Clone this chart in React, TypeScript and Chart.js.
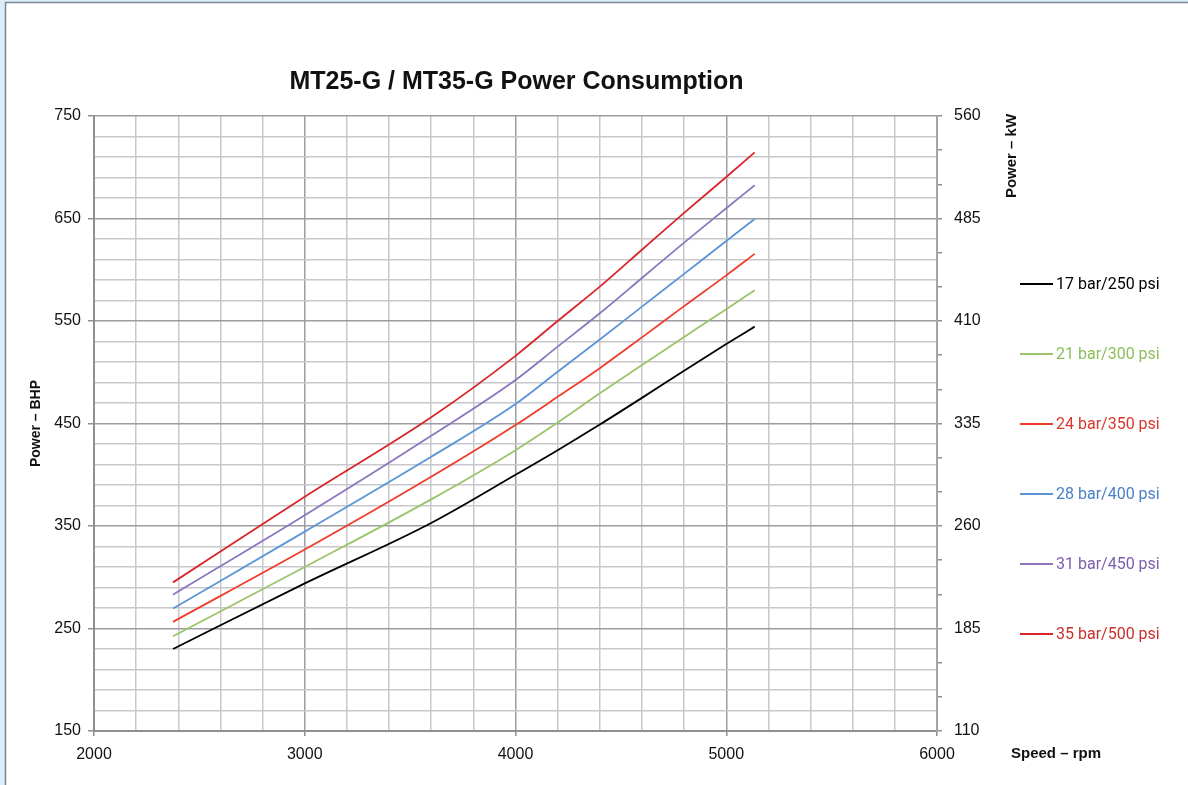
import React, { useEffect, useRef } from "react";
import { Chart, registerables } from "chart.js";

Chart.register(...registerables);

// ---- data ----
const RPM = [2375, 3000, 3600, 4000, 4200, 4400, 4600, 4800, 5000, 5135];
const BHP_17_BAR = [230, 294, 353, 400, 424, 449, 475, 501.5, 527.5, 544.5];
const BHP_21_BAR = [242.5, 310, 376, 424, 451, 479.5, 507, 534.5, 561.5, 580];
const BHP_24_BAR = [256.5, 327, 398, 448.5, 476, 504, 534, 564.5, 594.5, 615.5];
const BHP_28_BAR = [269.5, 344.5, 417.5, 469, 500.5, 532, 564, 596, 628, 649.5];
const BHP_31_BAR = [283, 360.5, 438, 492.5, 525, 557.5, 592, 626.5, 660, 682.5];
const BHP_35_BAR = [295, 378.5, 456, 516, 550, 583.5, 619.5, 655.5, 690.5, 714.5];

const SERIES_LABELS = [
  "17 bar/250 psi",
  "21 bar/300 psi",
  "24 bar/350 psi",
  "28 bar/400 psi",
  "31 bar/450 psi",
  "35 bar/500 psi",
];
const SERIES_VALUES = [BHP_17_BAR, BHP_21_BAR, BHP_24_BAR, BHP_28_BAR, BHP_31_BAR, BHP_35_BAR];
const LINE_COLORS = ["#000000", "#9bc46a", "#f03d2b", "#5b95d6", "#8c77be", "#d8262b"];
const TEXT_COLORS = ["#000000", "#8dbd5a", "#d9372c", "#4a80c6", "#7a5fae", "#c9302c"];

const TITLE = "MT25-G / MT35-G Power Consumption";
const LEFT_TITLE = "Power \u2013 BHP";
const RIGHT_TITLE = "Power \u2013 kW";
const X_TITLE = "Speed \u2013 rpm";

const X_MIN = 2000, X_MAX = 6000, X_STEP = 200, X_LABEL_STEP = 1000;
const BHP_MIN = 150, BHP_MAX = 750, BHP_STEP = 20, BHP_LABEL_STEP = 100;
const KW_MIN = 110, KW_MAX = 560, KW_STEP = 25, KW_LABEL_STEP = 75;

const FONT = "'Liberation Sans', Arial, sans-serif";
const MINOR = "#c8c8cc";
const MAJOR = "#9d9da1";
const AXIS = "#8e8e93";

const isMajorBhp = (v: number) => Math.abs(((v - BHP_MIN) % BHP_LABEL_STEP)) < 1e-6;
const isMajorX = (v: number) => Math.abs(((v - X_MIN) % X_LABEL_STEP)) < 1e-6;
const isMajorKw = (v: number) => Math.abs(((v - KW_MIN) % KW_LABEL_STEP)) < 1e-6;

const decorPlugin = {
  id: "decor",
  beforeDraw(chart: any) {
    const ctx = chart.ctx;
    ctx.save();
    ctx.fillStyle = "#dcecf8";
    ctx.fillRect(0, 0, chart.width, chart.height);
    ctx.fillStyle = "#ffffff";
    ctx.fillRect(6, 3, chart.width, chart.height);
    ctx.strokeStyle = "#7d858e";
    ctx.lineWidth = 1.5;
    ctx.beginPath();
    ctx.moveTo(5.5, chart.height);
    ctx.lineTo(5.5, 2.5);
    ctx.lineTo(chart.width, 2.5);
    ctx.stroke();
    ctx.restore();
  },
  afterDraw(chart: any) {
    const ctx = chart.ctx;
    const area = chart.chartArea;
    ctx.save();
    // title
    ctx.fillStyle = "#111";
    ctx.font = `bold 25px ${FONT}`;
    ctx.textAlign = "center";
    ctx.textBaseline = "middle";
    ctx.fillText(TITLE, (area.left + area.right) / 2 + 1, 82);

    // left axis title
    ctx.font = `bold 14px ${FONT}`;
    ctx.save();
    ctx.translate(36, (area.top + area.bottom) / 2);
    ctx.rotate(-Math.PI / 2);
    ctx.fillText(LEFT_TITLE, 0, 0);
    ctx.restore();

    // right axis title
    ctx.font = `bold 15px ${FONT}`;
    ctx.save();
    ctx.translate(1012, 156);
    ctx.rotate(-Math.PI / 2);
    ctx.fillText(RIGHT_TITLE, 0, 0);
    ctx.restore();

    // x axis title
    ctx.textAlign = "left";
    ctx.fillText(X_TITLE, 1011, 754);

    // legend
    chart.data.datasets.forEach((ds: any, i: number) => {
      const y = 284 + 70 * i;
      ctx.strokeStyle = ds.borderColor;
      ctx.lineWidth = 2;
      ctx.beginPath();
      ctx.moveTo(1020, y);
      ctx.lineTo(1053, y);
      ctx.stroke();
      ctx.fillStyle = TEXT_COLORS[i];
      ctx.font = `16px Roboto, sans-serif`;
      ctx.textAlign = "left";
      ctx.textBaseline = "middle";
      ctx.fillText(ds.label, 1056, y + 1);
    });
    ctx.restore();
  },
};

export default function App() {
  const ref = useRef<HTMLCanvasElement | null>(null);

  useEffect(() => {
    document.body.style.margin = "0";
    document.body.style.overflow = "hidden";
    const canvas = ref.current;
    if (!canvas) return;
    const datasets = SERIES_VALUES.map((vals, i) => ({
      label: SERIES_LABELS[i],
      data: RPM.map((x, j) => ({ x, y: vals[j] })),
      borderColor: LINE_COLORS[i],
      backgroundColor: LINE_COLORS[i],
      borderWidth: 1.8,
      pointRadius: 0,
      cubicInterpolationMode: "monotone",
      yAxisID: "y",
    }));

    const chart = new Chart(canvas, {
      type: "line",
      data: { datasets },
      plugins: [decorPlugin],
      options: {
        responsive: false,
        animation: false,
        devicePixelRatio: 1,
        layout: { padding: { top: 116, left: 0, right: 0, bottom: 0 } },
        plugins: {
          legend: { display: false },
          title: { display: false },
          tooltip: { enabled: false },
        },
        scales: {
          x: {
            type: "linear",
            position: "bottom",
            min: X_MIN,
            max: X_MAX,
            afterFit: (s: any) => { s.height = 54; },
            ticks: {
              stepSize: X_STEP,
              autoSkip: false,
              maxRotation: 0,
              padding: 9,
              color: "#111",
              font: { family: FONT, size: 16 },
              callback: (v: any) => (isMajorX(Number(v)) ? String(v) : ""),
            },
            grid: {
              lineWidth: 1.5,
              color: (c: any) => (isMajorX(c.tick.value) ? MAJOR : MINOR),
              tickColor: (c: any) => (isMajorX(c.tick.value) ? AXIS : "rgba(0,0,0,0)"),
              tickLength: 5,
            },
            border: { color: AXIS, width: 2 },
          },
          y: {
            type: "linear",
            position: "left",
            min: BHP_MIN,
            max: BHP_MAX,
            afterFit: (s: any) => { s.width = 94; },
            ticks: {
              stepSize: BHP_STEP,
              autoSkip: false,
              padding: 7,
              color: "#111",
              font: { family: FONT, size: 16 },
              callback: (v: any) => (isMajorBhp(Number(v)) ? String(v) : ""),
            },
            grid: {
              lineWidth: 1.5,
              color: (c: any) => (isMajorBhp(c.tick.value) ? MAJOR : MINOR),
              tickColor: (c: any) => (isMajorBhp(c.tick.value) ? AXIS : "rgba(0,0,0,0)"),
              tickLength: 6,
            },
            border: { color: AXIS, width: 2 },
          },
          kw: {
            type: "linear",
            position: "right",
            min: KW_MIN,
            max: KW_MAX,
            afterFit: (s: any) => { s.width = 251; },
            ticks: {
              stepSize: KW_STEP,
              autoSkip: false,
              padding: 12,
              color: "#111",
              font: { family: FONT, size: 16 },
              callback: (v: any) => (isMajorKw(Number(v)) ? String(v) : ""),
            },
            grid: {
              drawOnChartArea: false,
              tickColor: AXIS,
              tickLength: 5,
              lineWidth: 1.5,
            },
            border: { color: "#a4a4a8", width: 2 },
          },
        },
      },
    } as any);
    return () => chart.destroy();
  }, []);

  return (
    <div style={{ position: "absolute", left: 0, top: 0, width: 1188, height: 785 }}>
      <canvas ref={ref} width={1188} height={785} style={{ display: "block", width: 1188, height: 785 }} />
    </div>
  );
}
